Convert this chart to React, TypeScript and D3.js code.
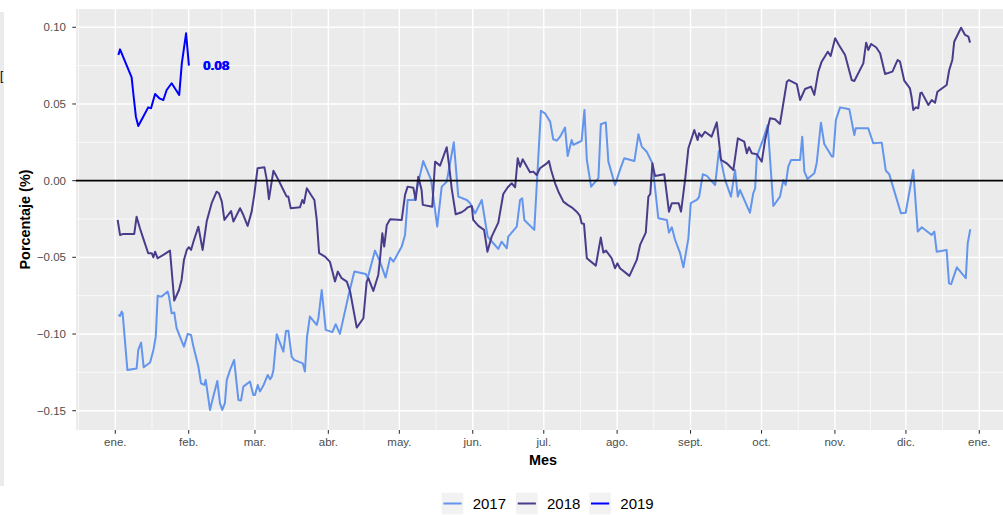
import React from "react";
import * as d3 from "d3";

// etiquetas de meses (eje x)
const meses = ["ene.", "feb.", "mar.", "abr.", "may.", "jun.", "jul.", "ago.", "sept.", "oct.", "nov.", "dic.", "ene."];
const ticksY = [-0.15, -0.1, -0.05, 0, 0.05, 0.1];
const menoresY = [-0.125, -0.075, -0.025, 0.025, 0.075];

// dia del año (desde 1 ene) y porcentaje
const dias2017 = [1.3, 2.0, 2.7, 3.1, 5.1, 9.0, 9.7, 10.9, 12.0, 14.7, 16.1, 17.1, 17.9, 18.9, 19.6, 22.1, 22.7, 23.8, 24.9, 25.9, 27.3, 29.0, 30.6, 32.0, 33.0, 35.1, 36.2, 37.6, 38.2, 40.0, 41.4, 43.1, 44.2, 45.2, 46.3, 47.1, 48.5, 50.2, 52.0, 53.1, 54.1, 56.9, 58.3, 59.0, 60.2, 61.1, 62.5, 64.4, 65.4, 66.1, 66.8, 68.2, 69.6, 71.0, 72.1, 73.1, 74.5, 75.5, 79.2, 80.1, 81.0, 82.2, 85.1, 85.8, 87.2, 88.9, 91.7, 93.1, 94.9, 98.4, 101.0, 105.8, 106.6, 109.7, 111.8, 114.2, 116.1, 117.5, 121.0, 122.4, 123.5, 126.3, 130.1, 133.4, 136.0, 137.9, 140.0, 143.0, 144.9, 148.5, 149.9, 152.0, 154.8, 157.3, 159.7, 161.8, 163.2, 165.4, 166.0, 169.6, 171.0, 171.9, 172.8, 177.0, 179.8, 181.5, 183.7, 185.0, 186.5, 187.9, 190.0, 191.1, 192.8, 193.5, 194.9, 197.0, 198.2, 199.2, 201.0, 204.1, 205.1, 207.2, 208.3, 211.1, 213.2, 215.0, 219.3, 221.0, 222.4, 224.5, 226.9, 229.4, 233.0, 233.9, 235.1, 236.5, 238.6, 240.0, 242.1, 243.1, 245.6, 246.6, 248.2, 249.9, 253.4, 255.0, 257.6, 260.1, 261.8, 263.0, 263.9, 268.1, 269.5, 270.3, 271.0, 273.8, 275.6, 278.0, 280.8, 282.2, 283.2, 284.3, 285.5, 289.3, 290.2, 291.1, 292.4, 295.3, 296.3, 298.1, 299.5, 302.7, 303.3, 304.4, 306.2, 310.1, 312.2, 312.8, 318.1, 320.2, 323.8, 325.5, 326.9, 331.9, 333.9, 337.1, 339.0, 340.7, 344.9, 346.0, 347.0, 351.2, 352.2, 353.1, 355.5, 359.3, 360.1, 361.2];
const valores2017 = [-0.0875, -0.0882, -0.0854, -0.0865, -0.1234, -0.1225, -0.1104, -0.1056, -0.1217, -0.1186, -0.1104, -0.1017, -0.075, -0.0756, -0.0756, -0.0723, -0.0756, -0.0865, -0.086, -0.0962, -0.1017, -0.1082, -0.0999, -0.1006, -0.1082, -0.1212, -0.1321, -0.1332, -0.1299, -0.1495, -0.1408, -0.1306, -0.1451, -0.1495, -0.1451, -0.1299, -0.1234, -0.1169, -0.143, -0.1434, -0.1343, -0.131, -0.1397, -0.1397, -0.1332, -0.1375, -0.1338, -0.1267, -0.1295, -0.1278, -0.1234, -0.1001, -0.106, -0.1115, -0.098, -0.0978, -0.1147, -0.1169, -0.1191, -0.1245, -0.1017, -0.0886, -0.0941, -0.0897, -0.0713, -0.0973, -0.0988, -0.0936, -0.0999, -0.0756, -0.0593, -0.0608, -0.0636, -0.0456, -0.0528, -0.0632, -0.0502, -0.0528, -0.043, -0.0354, -0.0126, -0.0126, 0.0128, 0.0005, -0.03, -0.0039, -0.0007, 0.025, -0.0104, -0.0126, -0.0147, -0.0213, -0.0126, -0.0365, -0.0408, -0.0445, -0.0398, -0.0441, -0.0365, -0.03, -0.0126, -0.0115, -0.0256, -0.0321, 0.0456, 0.0439, 0.0385, 0.027, 0.0261, 0.0287, 0.0346, 0.0161, 0.0265, 0.0233, 0.0244, 0.0259, 0.0461, 0.0135, -0.0039, 0.0016, 0.0368, 0.038, 0.0124, -0.0028, 0.007, 0.0146, 0.0128, 0.0302, 0.0222, 0.0189, 0.0113, -0.0245, -0.0256, -0.0339, -0.0304, -0.0387, -0.0473, -0.0565, -0.0376, -0.0147, -0.0126, -0.0108, 0.0042, 0.0031, -0.0028, 0.0194, 0.0005, -0.0104, 0.007, -0.0104, -0.0061, -0.0209, -0.0082, -0.005, 0.0157, 0.0276, 0.0363, -0.0165, -0.0104, 0.0005, -0.0028, 0.0091, 0.0135, 0.0135, 0.0287, 0.0059, 0.0011, 0.0048, 0.0113, 0.0378, 0.0239, 0.0157, 0.0157, 0.0396, 0.0478, 0.0465, 0.0298, 0.0341, 0.0341, 0.0244, 0.0248, 0.0065, 0.0044, -0.0213, -0.0209, 0.007, -0.0332, -0.0304, -0.0354, -0.0332, -0.0463, -0.0452, -0.0669, -0.0675, -0.0565, -0.0636, -0.0408, -0.0317];

const dias2018 = [1.0, 2.0, 3.4, 8.0, 9.0, 10.4, 11.8, 13.9, 15.4, 16.1, 16.8, 17.9, 20.3, 23.1, 24.9, 26.9, 28.0, 29.0, 30.2, 31.1, 32.0, 33.0, 35.1, 36.9, 38.6, 40.7, 42.8, 43.8, 45.0, 46.1, 48.9, 49.9, 52.7, 54.1, 55.9, 57.6, 58.7, 60.1, 63.0, 64.0, 64.9, 66.8, 67.8, 68.9, 71.0, 72.4, 73.1, 74.1, 78.0, 79.0, 79.7, 80.9, 82.7, 84.1, 85.1, 86.1, 88.6, 90.7, 92.8, 94.0, 95.6, 97.8, 99.2, 102.0, 104.8, 106.2, 106.9, 109.0, 111.1, 111.8, 112.8, 113.6, 114.7, 116.1, 121.0, 122.4, 123.5, 125.9, 126.9, 128.0, 129.4, 129.9, 133.9, 135.1, 137.2, 140.0, 141.0, 142.1, 143.8, 146.3, 147.7, 148.9, 150.6, 151.2, 153.4, 155.8, 157.2, 159.0, 161.8, 163.9, 165.8, 167.5, 168.9, 170.0, 171.0, 172.1, 175.2, 176.6, 178.0, 179.4, 182.3, 183.2, 184.1, 185.8, 187.2, 189.3, 191.1, 192.8, 194.9, 196.3, 197.0, 198.0, 199.2, 203.0, 205.1, 206.2, 207.3, 209.7, 211.1, 212.1, 213.2, 217.2, 220.3, 221.7, 224.1, 225.2, 226.0, 226.9, 228.0, 231.9, 233.9, 235.1, 238.0, 239.0, 240.7, 242.1, 244.6, 246.0, 246.6, 247.7, 249.1, 251.9, 254.1, 255.9, 258.3, 261.1, 263.0, 265.7, 266.8, 267.7, 268.9, 271.0, 273.1, 274.5, 276.6, 278.7, 280.8, 283.7, 284.6, 287.9, 289.3, 291.4, 293.9, 295.3, 297.0, 298.4, 301.0, 302.2, 304.1, 305.7, 308.3, 311.1, 312.2, 316.0, 317.2, 318.1, 319.3, 321.4, 323.1, 325.2, 328.3, 330.5, 331.5, 333.3, 335.7, 336.4, 337.1, 338.2, 339.2, 340.1, 340.7, 343.5, 344.9, 346.3, 347.3, 351.2, 352.3, 353.6, 354.4, 357.3, 359.0, 360.4, 361.1];
const valores2018 = [-0.0256, -0.0354, -0.0347, -0.0347, -0.0235, -0.031, -0.0376, -0.0473, -0.0473, -0.05, -0.0463, -0.0506, -0.0484, -0.0456, -0.0782, -0.0713, -0.0647, -0.0517, -0.0452, -0.0434, -0.0452, -0.0398, -0.03, -0.0452, -0.0267, -0.0147, -0.0072, -0.0082, -0.0137, -0.0256, -0.0198, -0.0267, -0.018, -0.0224, -0.0295, -0.0202, -0.0093, 0.0081, 0.0087, 0.0005, -0.0121, 0.0065, 0.0037, 0.0005, -0.0061, -0.0104, -0.0104, -0.018, -0.0174, -0.0126, -0.0147, -0.005, -0.0093, -0.0126, -0.0256, -0.0473, -0.0495, -0.053, -0.0658, -0.0593, -0.0636, -0.0658, -0.0723, -0.0958, -0.0897, -0.0658, -0.0636, -0.0719, -0.0615, -0.0517, -0.0343, -0.043, -0.0289, -0.0252, -0.0256, -0.0093, -0.0039, -0.0046, -0.0126, 0.0026, -0.0061, -0.0158, -0.017, 0.0124, 0.0098, 0.0218, 0.0102, -0.005, -0.0219, -0.0206, -0.0191, -0.0174, -0.0165, -0.0256, -0.0295, -0.0321, -0.0463, -0.0365, -0.0274, -0.0087, -0.0043, -0.0017, -0.0043, 0.0146, 0.0091, 0.0139, 0.0055, 0.0059, 0.0037, 0.0081, 0.0113, 0.0128, 0.007, -0.0017, -0.0072, -0.0137, -0.0158, -0.0174, -0.0202, -0.023, -0.0278, -0.0282, -0.0506, -0.0554, -0.0371, -0.0469, -0.0456, -0.0506, -0.0571, -0.0539, -0.0571, -0.0621, -0.0517, -0.0419, -0.0339, -0.0104, -0.0087, 0.0113, 0.0031, 0.0042, -0.0202, -0.0147, -0.0147, -0.0202, 0.0005, 0.0211, 0.033, 0.0265, 0.0309, 0.0287, 0.0319, 0.0287, 0.038, 0.0135, 0.0113, 0.007, 0.0276, 0.0254, 0.0179, 0.0218, 0.0179, 0.0172, 0.0124, 0.0265, 0.0407, 0.04, 0.037, 0.0645, 0.0656, 0.063, 0.0526, 0.0598, 0.0613, 0.0559, 0.0711, 0.0776, 0.0841, 0.0813, 0.0928, 0.0885, 0.0819, 0.0656, 0.065, 0.0765, 0.09, 0.0852, 0.0891, 0.087, 0.0831, 0.0696, 0.0711, 0.0787, 0.0776, 0.0652, 0.0602, 0.0544, 0.0461, 0.0478, 0.0472, 0.057, 0.0574, 0.0493, 0.0526, 0.0508, 0.058, 0.0624, 0.0722, 0.0787, 0.0906, 0.0997, 0.095, 0.0939, 0.09];

const dias2019 = [1.3, 2.0, 6.9, 7.6, 8.7, 9.7, 11.8, 13.9, 15.1, 16.8, 18.6, 20.3, 21.7, 23.8, 27.0, 28.1, 29.9, 31.1];
const valores2019 = [0.0819, 0.0856, 0.0674, 0.057, 0.0417, 0.0357, 0.0417, 0.0478, 0.0472, 0.0565, 0.0537, 0.0526, 0.0591, 0.0635, 0.0559, 0.0765, 0.0961, 0.075];

// etiqueta del ultimo valor de 2019
const etiquetaDia = 42.5;
const etiquetaValor = 0.075;
const etiquetaTexto = "0.08";

const anios = ["2017", "2018", "2019"];
const colores = ["#6495ED", "#483D8B", "#0000FF"];
const series = [
  { anio: anios[0], dias: dias2017, valores: valores2017, color: colores[0] },
  { anio: anios[1], dias: dias2018, valores: valores2018, color: colores[1] },
  { anio: anios[2], dias: dias2019, valores: valores2019, color: colores[2] },
];

const inicio = Date.UTC(2017, 0, 1);
const fecha = (d: number) => new Date(inicio + d * 864e5);

export default function App() {
  const W = 1003;
  const H = 515;
  const panel = { left: 76, top: 9, right: 1003, bottom: 430 };

  const x = d3.scaleUtc().domain([fecha(0), fecha(365)]).range([115.3, 979.3]);
  const y = d3.scaleLinear().domain([-0.15, 0.1]).range([410.7, 27.3]);

  const mayoresX = d3.utcMonth.range(fecha(0), fecha(366));
  const menoresX = [fecha(-15.5), ...mayoresX.slice(0, -1).map((m, i) => new Date((+m + +mayoresX[i + 1]) / 2))];

  const trazo = (s: typeof series[0]) =>
    d3
      .line<number>()
      .x((d) => x(fecha(d)))
      .y((_, i) => y(s.valores[i]))(s.dias) || "";

  const fmt = (v: number) => (v < 0 ? "\u2212" : "") + Math.abs(v).toFixed(2);
  const font = "'Liberation Sans', Arial, Helvetica, sans-serif";

  const legendX = [441.7, 516, 589.3];

  return (
    <svg width={W} height={H} style={{ position: "absolute", left: 0, top: 0, fontFamily: font }}>
      <rect x={0} y={0} width={W} height={H} fill="white" />
      {/* restos del borde izquierdo */}
      <rect x={0} y={12} width={4} height={474} fill="#EBEBEB" />
      <text x={0} y={80} fontSize={12} fill="black">[</text>

      <rect x={panel.left} y={panel.top} width={panel.right - panel.left} height={panel.bottom - panel.top} fill="#EBEBEB" />
      {menoresY.map((v) => (
        <line key={"my" + v} x1={panel.left} x2={panel.right} y1={y(v)} y2={y(v)} stroke="white" strokeWidth={0.7} />
      ))}
      {menoresX.map((m, i) => (
        <line key={"mx" + i} x1={x(m)} x2={x(m)} y1={panel.top} y2={panel.bottom} stroke="white" strokeWidth={0.7} />
      ))}
      {ticksY.map((v) => (
        <line key={"gy" + v} x1={panel.left} x2={panel.right} y1={y(v)} y2={y(v)} stroke="white" strokeWidth={1.4} />
      ))}
      {mayoresX.map((m, i) => (
        <line key={"gx" + i} x1={x(m)} x2={x(m)} y1={panel.top} y2={panel.bottom} stroke="white" strokeWidth={1.4} />
      ))}

      {series.map((s) => (
        <path key={s.anio} d={trazo(s)} fill="none" stroke={s.color} strokeWidth={2} strokeLinejoin="round" />
      ))}

      <line x1={panel.left} x2={panel.right} y1={y(0)} y2={y(0)} stroke="black" strokeWidth={1.8} />

      {[0, 0.7].map((o) => (
        <text
          key={"lab" + o}
          x={x(fecha(etiquetaDia)) + o}
          y={y(etiquetaValor)}
          dy="0.35em"
          textAnchor="middle"
          fontSize={13.5}
          fontWeight="bold"
          fill={colores[2]}
        >
          {etiquetaTexto}
        </text>
      ))}

      {/* eje y */}
      {ticksY.map((v) => (
        <g key={"ty" + v}>
          <line x1={72.3} x2={panel.left} y1={y(v)} y2={y(v)} stroke="#333333" strokeWidth={1.07} />
          <text x={66} y={y(v)} dy="0.35em" textAnchor="end" fontSize={11.5} fill="#4D4D4D">
            {fmt(v)}
          </text>
        </g>
      ))}
      {/* eje x */}
      {mayoresX.map((m, i) => (
        <g key={"tx" + i}>
          <line x1={x(m)} x2={x(m)} y1={panel.bottom} y2={panel.bottom + 3.7} stroke="#333333" strokeWidth={1.07} />
          <text x={x(m)} y={446} textAnchor="middle" fontSize={11.5} fill="#4D4D4D">
            {meses[i]}
          </text>
        </g>
      ))}

      <text x={543} y={465} textAnchor="middle" fontSize={14.4} fontWeight="bold" fill="black">
        Mes
      </text>
      <text
        transform={`translate(30,${(panel.top + panel.bottom) / 2}) rotate(-90)`}
        textAnchor="middle"
        fontSize={14.4}
        fontWeight="bold"
        fill="black"
      >
        Porcentaje (%)
      </text>

      {/* leyenda */}
      {series.map((s, i) => (
        <g key={"lg" + s.anio}>
          <rect x={legendX[i]} y={492.7} width={21.6} height={21.6} fill="#F2F2F2" />
          <line x1={legendX[i] + 1.7} x2={legendX[i] + 19.9} y1={503.5} y2={503.5} stroke={s.color} strokeWidth={2} />
          <text x={legendX[i] + 31} y={503.5} dy="0.35em" fontSize={15} fill="black">
            {s.anio}
          </text>
        </g>
      ))}
    </svg>
  );
}
